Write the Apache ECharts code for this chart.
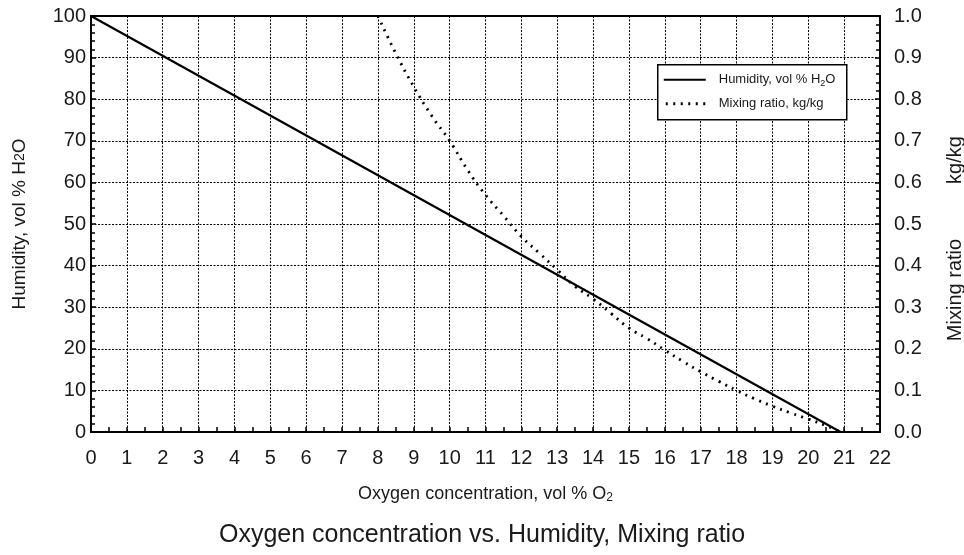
<!DOCTYPE html>
<html>
<head>
<meta charset="utf-8">
<script src="https://cdn.jsdelivr.net/npm/echarts@6/dist/echarts.min.js"></script>
<style>
  html, body { margin: 0; padding: 0; background: #fff; }
  #chart { width: 964px; height: 555px; }
</style>
</head>
<body>
<div id="chart"></div>
<script>
// Oxygen concentration (vol % O2) where humidity line is defined
var humidityO2 = [0, 20.9];
// Humidity, vol % H2O
var humidityValues = [100, 0];

// Oxygen concentration points along the mixing-ratio curve
var mixingO2 = [8, 8.5, 9, 9.5, 10, 10.5, 11, 11.5, 12, 12.5, 13, 13.5, 14, 14.5,
                15, 15.5, 16, 16.5, 17, 17.5, 18, 18.5, 19, 19.5, 20, 20.5, 20.9];
// Mixing ratio, kg/kg
var mixingValues = [1.00, 0.91, 0.83, 0.76, 0.70, 0.63, 0.57, 0.52, 0.47, 0.43, 0.39, 0.35,
                    0.32, 0.285, 0.25, 0.225, 0.197, 0.17, 0.145, 0.122, 0.10, 0.08,
                    0.062, 0.046, 0.031, 0.015, 0.0];

var seriesNames = ['Humidity, vol % H2O', 'Mixing ratio, kg/kg'];

function pairs(xs, ys) {
  return xs.map(function (x, i) { return [x, ys[i]]; });
}

var FONT = 'Liberation Sans, Arial, sans-serif';
var INK = '#1a1a1a';
var DOT_DASH = [2, 5.5];
var gridLine = { show: true, lineStyle: { color: '#000', type: [2, 1.5], width: 1 } };

// Boxed key drawn in the upper right of the plot
var keyBox = { x: 657, y: 64, w: 189, h: 55 };
var KEY_Z = 100;
var keyGraphic = {
  type: 'group', left: keyBox.x, top: keyBox.y, z: KEY_Z,
  children: [
    { type: 'rect', z: KEY_Z, shape: { x: 0, y: 0, width: keyBox.w, height: keyBox.h },
      style: { fill: '#fff', stroke: '#000', lineWidth: 1.5 } },
    { type: 'line', z: KEY_Z + 1, shape: { x1: 6, y1: 15, x2: 48, y2: 15 },
      style: { stroke: '#000', lineWidth: 2.2 } },
    { type: 'text', z: KEY_Z + 1, x: 61, y: 15,
      style: { text: 'Humidity, vol % H{sub|2}O', fontFamily: FONT, fontSize: 13, fill: INK,
               verticalAlign: 'middle',
               rich: { sub: { fontSize: 9, padding: [7, 0, 0, 0], fontFamily: FONT, fill: INK } } } },
    { type: 'line', z: KEY_Z + 1, shape: { x1: 8, y1: 39, x2: 48, y2: 39 },
      style: { stroke: '#000', lineWidth: 2.8, lineDash: DOT_DASH } },
    { type: 'text', z: KEY_Z + 1, x: 61, y: 39,
      style: { text: seriesNames[1], fontFamily: FONT, fontSize: 13, fill: INK, verticalAlign: 'middle' } }
  ]
};

var chart = echarts.init(document.getElementById('chart'), null, { renderer: 'canvas' });
chart.setOption({
  animation: false,
  backgroundColor: '#fff',
  textStyle: { fontFamily: FONT, color: INK },
  title: {
    text: 'Oxygen concentration vs. Humidity, Mixing ratio',
    left: 'center', top: 518,
    textStyle: { fontFamily: FONT, fontSize: 25, fontWeight: 'normal', color: INK }
  },
  grid: {
    left: 91, right: 84, top: 16, bottom: 123,
    show: true, borderColor: '#000', borderWidth: 2, backgroundColor: 'transparent'
  },
  xAxis: {
    type: 'value', min: 0, max: 22, interval: 1,
    name: 'Oxygen concentration, vol % O{sub|2}',
    nameLocation: 'middle', nameGap: 52,
    nameTextStyle: {
      fontFamily: FONT, fontSize: 18, color: INK,
      rich: { sub: { fontSize: 12, padding: [8, 0, 0, 0], fontFamily: FONT, color: INK } }
    },
    axisLine: { show: true, onZero: false, lineStyle: { color: '#000', width: 2 } },
    axisTick: { show: true, inside: true, length: 5, lineStyle: { color: '#000', width: 1.5 } },
    minorTick: { show: true, splitNumber: 2, length: 5, lineStyle: { color: '#000', width: 1.5 } },
    axisLabel: { fontFamily: FONT, fontSize: 20, color: INK, margin: 16 },
    splitLine: gridLine
  },
  yAxis: [{
    type: 'value', min: 0, max: 100, interval: 10,
    position: 'left',
    name: 'Humidity, vol % H{sub|2}O',
    nameLocation: 'middle', nameGap: 62,
    nameTextStyle: {
      fontFamily: FONT, fontSize: 19, color: INK,
      rich: { sub: { fontSize: 14, padding: [2, 0, 0, 0], fontFamily: FONT, color: INK } }
    },
    axisLine: { show: true, lineStyle: { color: '#000', width: 2 } },
    axisTick: { show: true, inside: true, length: 5, lineStyle: { color: '#000', width: 1.5 } },
    minorTick: { show: true, splitNumber: 5, length: 4, lineStyle: { color: '#000', width: 1.5 } },
    axisLabel: { fontFamily: FONT, fontSize: 20, color: INK, margin: 5 },
    splitLine: gridLine
  }, {
    type: 'value', min: 0, max: 1, interval: 0.1,
    position: 'right',
    axisLine: { show: true, lineStyle: { color: '#000', width: 2 } },
    axisTick: { show: true, inside: true, length: 5, lineStyle: { color: '#000', width: 1.5 } },
    minorTick: { show: true, splitNumber: 5, length: 4, lineStyle: { color: '#000', width: 1.5 } },
    axisLabel: {
      fontFamily: FONT, fontSize: 20, color: INK, margin: 14,
      formatter: function (v) { return v.toFixed(1); }
    },
    splitLine: { show: false }
  }],
  graphic: [
    keyGraphic,
    {
      type: 'text', x: 955, y: 160, rotation: Math.PI / 2,
      style: { text: 'kg/kg', fontFamily: FONT, fontSize: 20, fill: INK, align: 'center', verticalAlign: 'middle' }
    },
    {
      type: 'text', x: 955, y: 290, rotation: Math.PI / 2,
      style: { text: 'Mixing ratio', fontFamily: FONT, fontSize: 20, fill: INK, align: 'center', verticalAlign: 'middle' }
    }
  ],
  series: [{
    name: seriesNames[0],
    type: 'line',
    yAxisIndex: 0,
    data: pairs(humidityO2, humidityValues),
    showSymbol: false, symbol: 'none',
    lineStyle: { color: '#000', width: 2.2 },
    z: 5
  }, {
    name: seriesNames[1],
    type: 'line',
    yAxisIndex: 1,
    smooth: true,
    data: pairs(mixingO2, mixingValues),
    showSymbol: false, symbol: 'none',
    lineStyle: { color: '#000', width: 2.8, type: DOT_DASH },
    z: 5
  }]
});
</script>
</body>
</html>
